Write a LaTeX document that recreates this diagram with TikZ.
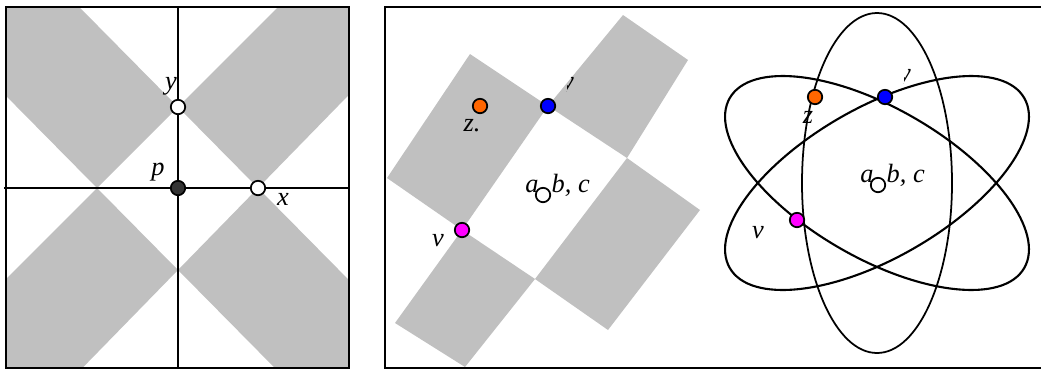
\documentclass[tikz,border=0pt]{standalone}
\usepackage{fontspec}
\setmainfont{Liberation Serif}
\definecolor{greyfill}{HTML}{C0C0C0}
\definecolor{dark}{HTML}{333333}
\definecolor{ptorange}{HTML}{FF6600}
\definecolor{ptblue}{HTML}{0000FF}
\definecolor{ptmagenta}{HTML}{FF00FF}
\begin{document}
\begin{tikzpicture}[x=0.02cm,y=-0.02cm,
  pt/.style={circle,draw=black,line width=1pt,inner sep=0pt,minimum size=8.2pt},
  lbl/.style={font=\fontsize{15}{16}\selectfont\itshape,inner sep=0pt},
  frame/.style={line width=1.4pt},
  axis/.style={line width=1.1pt},
  orbit/.style={line width=1.2pt},
  orbitv/.style={line width=1pt}]
\useasboundingbox (0,0) rectangle (1041,369);
% ---------- left panel ----------
\begin{scope}
\clip (6,7) rectangle (349,368);
\fill[greyfill, even odd rule]
  (-62,-136) -- (498,431) -- (421,516) -- (-146,-58) -- cycle
  (421,-136) -- (-146,431) -- (-62,516) -- (498,-58) -- cycle;
\end{scope}
\draw[frame] (6,7) rectangle (349,368);
\draw[axis] (4,188) -- (349,188);
\draw[axis] (178,7) -- (178,368);
\node[pt,fill=dark] (p) at (178,188) {};
\node[pt,fill=white] (y) at (178,107) {};
\node[pt,fill=white] (x) at (258,188) {};
\node[lbl] (ly) at (171,86) {y};
\node[lbl] (lp) at (158,172) {p};
\node[lbl] (lx) at (283,199) {x};
% ---------- middle panel ----------
\fill[greyfill] (470,54) -- (548,106) -- (462,230) -- (387,178) -- cycle;
\fill[greyfill] (548,106) -- (623,15) -- (688,60) -- (627,158) -- cycle;
\fill[greyfill] (627,158) -- (700,210) -- (608,330) -- (535,279) -- cycle;
\fill[greyfill] (462,230) -- (535,279) -- (465,367) -- (395,323) -- cycle;
\draw[frame] (1045,7) -- (385,7) -- (385,368) -- (1045,368);
\node[lbl,anchor=base west] (labc1) at (525,192) {a, b, c};
\node[pt,fill=white] (c1) at (543,195) {};
\node[pt,fill=ptorange] (z1) at (480,106) {};
\node[pt,fill=ptblue] (y1) at (548,106) {};
\node[pt,fill=ptmagenta] (v1) at (462,230) {};
\node[lbl] (lz1) at (472,126) {z.};
\node[lbl] (lv1) at (438,241) {v};
\begin{scope}
\clip (570,68) -- (590,68) -- (590,92) -- (566,92) -- cycle;
\node[lbl] (ly1) at (568,86) {y};
\end{scope}
% ---------- right panel ----------
\coordinate (o) at (877,183);
\draw[orbitv] (o) ellipse [x radius=75, y radius=170];
\draw[orbit, rotate around={60:(o)}] (o) ellipse [x radius=75, y radius=170];
\draw[orbit, rotate around={-60:(o)}] (o) ellipse [x radius=75, y radius=170];
\node[lbl,anchor=base west] (labc2) at (860,182) {a, b, c};
\node[pt,fill=white] (c2) at (878,185) {};
\node[pt,fill=ptorange] (z2) at (815,97) {};
\node[pt,fill=ptblue] (y2) at (885,97) {};
\node[pt,fill=ptmagenta] (v2) at (797,220) {};
\node[lbl] (lz2) at (808,117) {z};
\node[lbl] (lv2) at (758,233) {v};
\begin{scope}
\clip (907,60) -- (927,60) -- (927,84) -- (903,84) -- cycle;
\node[lbl] (ly2) at (905,78) {y};
\end{scope}
\end{tikzpicture}
\end{document}
